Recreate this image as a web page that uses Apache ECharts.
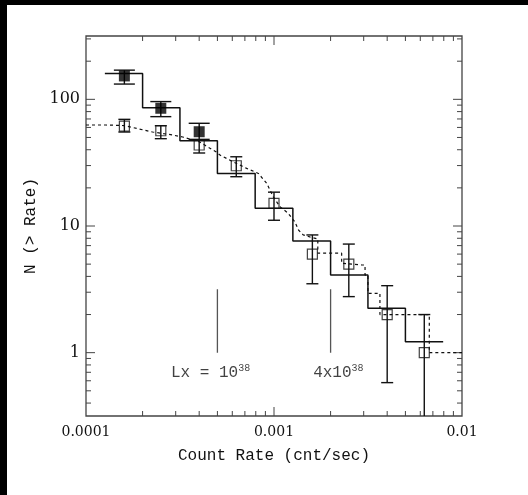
<!DOCTYPE html>
<html><head><meta charset="utf-8">
<script src="https://cdn.jsdelivr.net/npm/echarts@6/dist/echarts.min.js"></script>
<style>html,body{margin:0;padding:0;background:#fff}#c{width:528px;height:495px}</style>
</head><body><div id="c"></div>
<script>
// ---- data ----
const histEdges = [1.26e-4, 2.0e-4, 3.16e-4, 5.0e-4, 7.94e-4, 1.26e-3, 2.0e-3, 3.16e-3, 5.0e-3, 7.94e-3];
const histN = [160, 86, 47, 26, 13.8, 7.6, 4.1, 2.24, 1.22];

const dotX = [1.0e-4, 1.28e-4, 1.59e-4, 2.26e-4, 2.89e-4, 3.27e-4, 3.99e-4, 4.91e-4, 5.16e-4, 6.07e-4, 7.16e-4, 8.26e-4, 9.15e-4, 9.92e-4, 1.076e-3, 1.19e-3, 1.29e-3, 1.35e-3, 1.43e-3, 1.55e-3, 1.71e-3, 1.71e-3, 2.29e-3, 2.29e-3, 2.93e-3, 3.05e-3, 3.05e-3, 3.16e-3, 3.16e-3, 3.66e-3, 3.66e-3, 6.7e-3, 6.7e-3, 1.0e-2];
const dotY = [62.7, 62.7, 62.1, 55.2, 52.3, 50.4, 46.3, 38.6, 36.3, 32.1, 28.5, 26.0, 21.7, 17.0, 14.2, 12.6, 10.8, 9.3, 8.5, 8.2, 7.9, 6.1, 6.1, 5.08, 4.92, 4.92, 4.1, 4.1, 2.94, 2.94, 2.0, 2.0, 1.0, 1.0];

const filledX = [1.6e-4, 2.5e-4, 4.0e-4];
const filledY = [153, 85, 55.5];
const filledLo = [132, 73, 48.3];
const filledHi = [170, 96, 64.7];

const openX = [1.6e-4, 2.5e-4, 4.0e-4, 6.3e-4, 1.0e-3, 1.6e-3, 2.5e-3, 4.0e-3, 6.3e-3];
const openY = [61.5, 56.5, 43.6, 29.9, 15.1, 6.0, 5.0, 2.0, 1.0];
const openLo = [55.2, 48.9, 37.7, 24.5, 11.1, 3.5, 2.77, 0.58, 0.1];
const openHi = [69.5, 61.9, 47.7, 35.2, 18.5, 8.5, 7.2, 3.38, 2.0];

const annX = [5.0e-4, 2.0e-3];
const annYLow = 1.0, annYHigh = 3.16;
const annLabelX = [4.6e-4, 2.2e-3];
const annLabelY = 0.69;
const annLabels = ['Lx = 10{s|38}', '4x10{s|38}'];

const xMajorTicks = [1e-3];
const xMinorTicks = [2e-4,3e-4,4e-4,5e-4,6e-4,7e-4,8e-4,9e-4,2e-3,3e-3,4e-3,5e-3,6e-3,7e-3,8e-3,9e-3];
const yMajorTicks = [1, 10, 100];
const yMinorTicks = [0.4,0.5,0.6,0.7,0.8,0.9,2,3,4,5,6,7,8,9,20,30,40,50,60,70,80,90,200,300];
const xTickLabels = {'-4':'0.0001','-3':'0.001','-2':'0.01'};
const yTickLabels = {'0':'1','1':'10','2':'100'};

const xMin = 1e-4, xMax = 1e-2;
const yMin = Math.pow(10, -0.5), yMax = Math.pow(10, 2.5);

// ---- build ----
const histLine = [];
histN.forEach((v, i) => { histLine.push([histEdges[i], v]); histLine.push([histEdges[i + 1], v]); });

const tickData = [];
xMinorTicks.forEach(v => tickData.push([v, 1, 0]));
xMajorTicks.forEach(v => tickData.push([v, 1, 1]));
yMinorTicks.forEach(v => tickData.push([1e-3, v, 2]));
yMajorTicks.forEach(v => tickData.push([1e-3, v, 3]));

const INK = '#111';
const TXT = '#111';
const fmtLabel = (map) => (v) => {
  const l = Math.log10(v), e = Math.round(l);
  return Math.abs(l - e) < 1e-6 && map[String(e)] ? map[String(e)] : '';
};

function errSeries(xs, lo, hi, capHalf) {
  return {
    type: 'custom', clip: true, z: 4,
    data: xs.map((x, i) => [x, lo[i], hi[i]]),
    encode: { x: 0, y: [1, 2] },
    renderItem(params, api) {
      const x = api.value(0);
      const a = api.coord([x, api.value(1)]);
      const b = api.coord([x, api.value(2)]);
      const st = { stroke: INK, lineWidth: 1.4, fill: null };
      return { type: 'group', children: [
        { type: 'line', shape: { x1: a[0], y1: a[1], x2: b[0], y2: b[1] }, style: st },
        { type: 'line', shape: { x1: a[0] - capHalf, y1: a[1], x2: a[0] + capHalf, y2: a[1] }, style: st },
        { type: 'line', shape: { x1: b[0] - capHalf, y1: b[1], x2: b[0] + capHalf, y2: b[1] }, style: st }
      ]};
    }
  };
}

const chart = echarts.init(document.getElementById('c'), null, { renderer: 'canvas' });
chart.setOption({
  animation: false,
  backgroundColor: '#fff',
  graphic: [
    { type: 'rect', left: 0, top: 0, shape: { width: 7, height: 495 }, style: { fill: '#000' } },
    { type: 'rect', left: 0, top: 0, shape: { width: 528, height: 5 }, style: { fill: '#000' } }
  ],
  grid: { left: 86, top: 36, width: 376, height: 380, show: true, borderColor: '#444', borderWidth: 1.3, backgroundColor: 'transparent' },
  xAxis: {
    type: 'log', logBase: 10, min: xMin, max: xMax,
    name: 'Count Rate (cnt/sec)', nameLocation: 'middle', nameGap: 32,
    nameTextStyle: { fontFamily: 'Liberation Mono', fontSize: 16, color: TXT },
    axisLine: { show: false }, axisTick: { show: false }, splitLine: { show: false }, minorTick: { show: false },
    axisLabel: { formatter: fmtLabel(xTickLabels), fontFamily: 'DejaVu Serif', fontSize: 14, color: TXT, margin: 9, showMinLabel: true, showMaxLabel: true }
  },
  yAxis: {
    type: 'log', logBase: 10, min: yMin, max: yMax,
    name: 'N (> Rate)', nameLocation: 'middle', nameGap: 46, nameRotate: 90,
    nameTextStyle: { fontFamily: 'Liberation Mono', fontSize: 16, color: TXT },
    axisLine: { show: false }, axisTick: { show: false }, splitLine: { show: false }, minorTick: { show: false },
    axisLabel: { formatter: fmtLabel(yTickLabels), fontFamily: 'DejaVu Serif', fontSize: 16, color: TXT, margin: 6 }
  },
  series: [
    {
      type: 'custom', z: 1, silent: true, data: tickData,
      renderItem(params, api) {
        const cs = params.coordSys;
        const k = api.value(2);
        const p = api.coord([api.value(0), api.value(1)]);
        const st = { stroke: '#444', lineWidth: 1, fill: null };
        if (k < 2) {
          const L = k === 1 ? 9 : 5;
          const bottom = cs.y + cs.height, top = cs.y;
          return { type: 'group', children: [
            { type: 'line', shape: { x1: p[0], y1: bottom, x2: p[0], y2: bottom - L }, style: st },
            { type: 'line', shape: { x1: p[0], y1: top, x2: p[0], y2: top + L }, style: st }
          ]};
        } else {
          const L = k === 3 ? 9 : 5;
          const left = cs.x, right = cs.x + cs.width;
          return { type: 'group', children: [
            { type: 'line', shape: { x1: left, y1: p[1], x2: left + L, y2: p[1] }, style: st },
            { type: 'line', shape: { x1: right, y1: p[1], x2: right - L, y2: p[1] }, style: st }
          ]};
        }
      }
    },
    { type: 'line', data: histLine, symbol: 'none', z: 3, lineStyle: { color: INK, width: 1.5 } },
    { type: 'line', data: dotX.map((x, i) => [x, dotY[i]]), symbol: 'none', z: 3, lineStyle: { color: INK, width: 1.2, type: [3, 3] } },
    ...annX.map(x => ({ type: 'line', data: [[x, annYLow], [x, annYHigh]], symbol: 'none', z: 3, lineStyle: { color: '#555', width: 1.3 } })),
    errSeries(filledX, filledLo, filledHi, 10.5),
    errSeries(openX, openLo, openHi, 6),
    { type: 'scatter', z: 5, data: filledX.map((x, i) => [x, filledY[i]]), symbol: 'rect', symbolSize: 11, itemStyle: { color: '#000' } },
    { type: 'scatter', z: 5, data: openX.map((x, i) => [x, openY[i]]), symbol: 'rect', symbolSize: 10, itemStyle: { color: 'rgba(0,0,0,0)', borderColor: INK, borderWidth: 1.2 } },
    {
      type: 'scatter', z: 5, symbolSize: 0, silent: true,
      data: annLabelX.map((x, i) => ({ value: [x, annLabelY], label: { formatter: annLabels[i] } })),
      label: {
        show: true, position: 'inside', color: TXT, fontFamily: 'Liberation Mono', fontSize: 16,
        rich: { s: { fontFamily: 'Liberation Mono', fontSize: 10, padding: [0, 0, 10, 0], color: TXT } }
      }
    }
  ]
});
</script>
</body></html>
